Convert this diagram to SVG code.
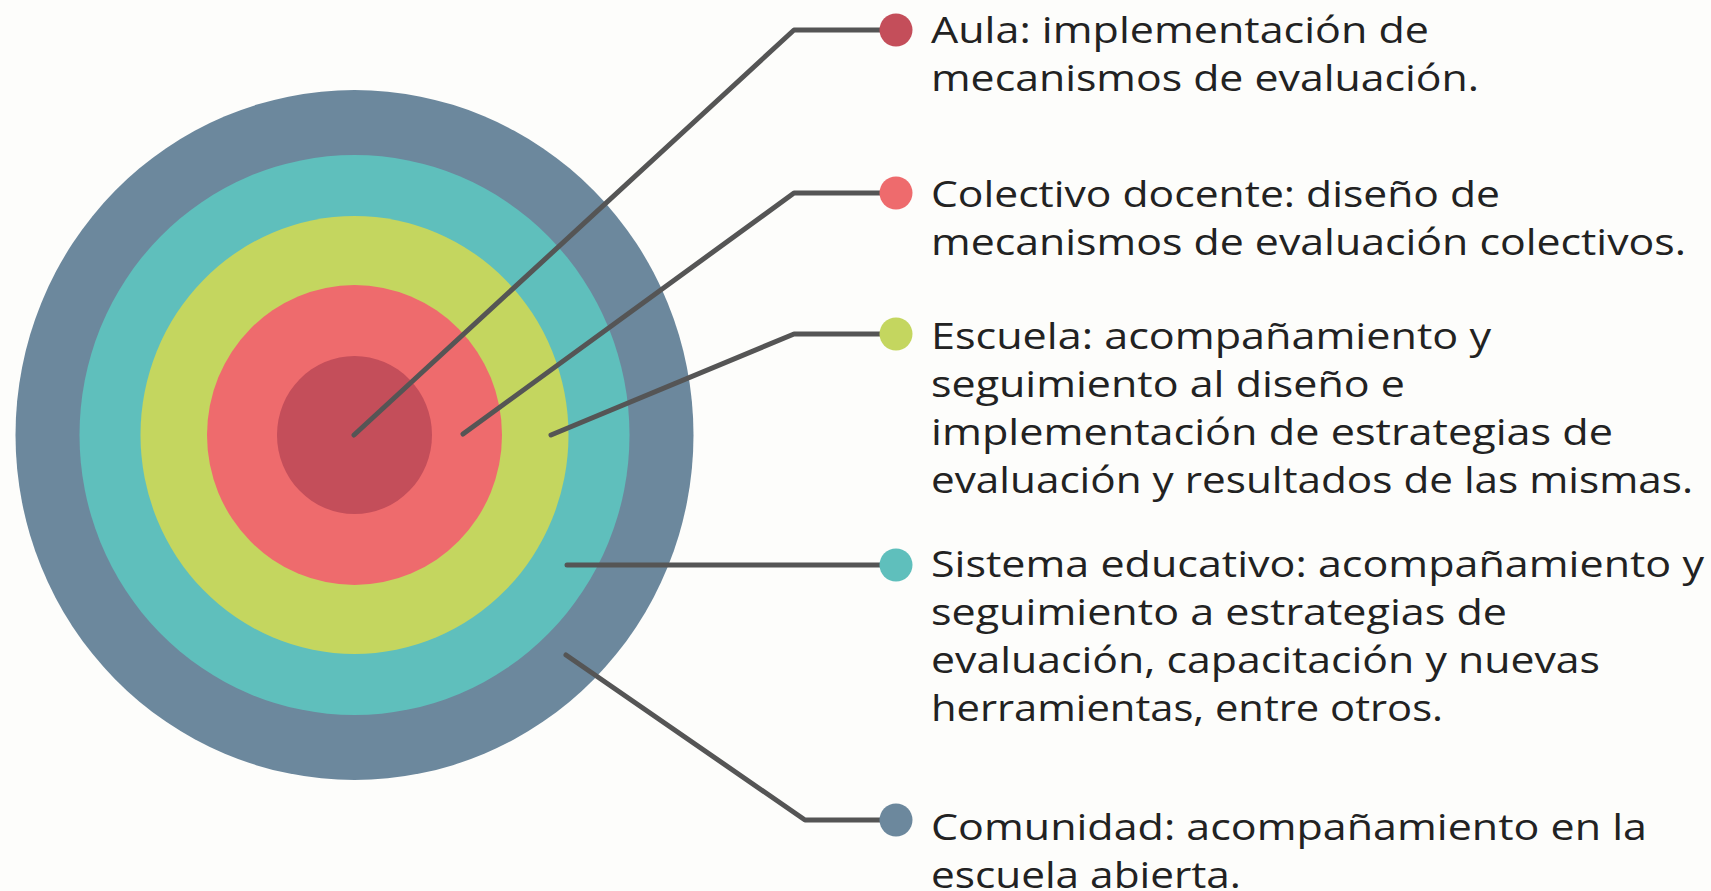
<svg xmlns="http://www.w3.org/2000/svg" width="1711" height="891" viewBox="0 0 1711 891">
  <style>
    .lbl { font-family: "Open Sans", "Liberation Sans", sans-serif; font-size: 36px; fill: #222222; }
    .conn { fill: none; stroke: #555555; stroke-width: 5; stroke-linecap: round; stroke-linejoin: round; }
  </style>
  <rect x="0" y="0" width="1711" height="891" fill="#FDFDFB"/>
  <g id="rings">
    <ellipse id="ring-comunidad" cx="354.5" cy="435" rx="339" ry="345" fill="#6C889D"/>
    <ellipse id="ring-sistema" cx="354.5" cy="435" rx="275" ry="280" fill="#5FBFBC"/>
    <ellipse id="ring-escuela" cx="354.5" cy="435" rx="214" ry="219" fill="#C4D65F"/>
    <ellipse id="ring-colectivo" cx="354.5" cy="435" rx="147.5" ry="150" fill="#EE6B6D"/>
    <ellipse id="ring-aula" cx="354.5" cy="435" rx="77.5" ry="79" fill="#C44E5A"/>
  </g>
  <g id="connectors">
    <polyline class="conn" points="354,435 794,30 896,30"/>
    <polyline class="conn" points="463,434 794,193 896,193"/>
    <polyline class="conn" points="551,435 794,334 896,334"/>
    <polyline class="conn" points="567,565 896,565"/>
    <polyline class="conn" points="566,655 805,820 896,820"/>
  </g>
  <g id="node-aula">
    <circle cx="896" cy="30" r="16.5" fill="#C44E5A"/>
    <text class="lbl" x="931" y="43" textLength="498" lengthAdjust="spacingAndGlyphs">Aula: implementación de</text>
    <text class="lbl" x="931" y="91" textLength="548" lengthAdjust="spacingAndGlyphs">mecanismos de evaluación.</text>
  </g>
  <g id="node-colectivo">
    <circle cx="896" cy="193" r="16.5" fill="#EE6B6D"/>
    <text class="lbl" x="931" y="207" textLength="569" lengthAdjust="spacingAndGlyphs">Colectivo docente: diseño de</text>
    <text class="lbl" x="931" y="255" textLength="755" lengthAdjust="spacingAndGlyphs">mecanismos de evaluación colectivos.</text>
  </g>
  <g id="node-escuela">
    <circle cx="896" cy="334" r="16.5" fill="#C4D65F"/>
    <text class="lbl" x="931" y="349" textLength="560" lengthAdjust="spacingAndGlyphs">Escuela: acompañamiento y</text>
    <text class="lbl" x="931" y="397" textLength="474" lengthAdjust="spacingAndGlyphs">seguimiento al diseño e</text>
    <text class="lbl" x="931" y="445" textLength="682" lengthAdjust="spacingAndGlyphs">implementación de estrategias de</text>
    <text class="lbl" x="931" y="493" textLength="762" lengthAdjust="spacingAndGlyphs">evaluación y resultados de las mismas.</text>
  </g>
  <g id="node-sistema">
    <circle cx="896" cy="565" r="16.5" fill="#5FBFBC"/>
    <text class="lbl" x="931" y="577" textLength="773" lengthAdjust="spacingAndGlyphs">Sistema educativo: acompañamiento y</text>
    <text class="lbl" x="931" y="625" textLength="576" lengthAdjust="spacingAndGlyphs">seguimiento a estrategias de</text>
    <text class="lbl" x="931" y="673" textLength="669" lengthAdjust="spacingAndGlyphs">evaluación, capacitación y nuevas</text>
    <text class="lbl" x="931" y="721" textLength="512" lengthAdjust="spacingAndGlyphs">herramientas, entre otros.</text>
  </g>
  <g id="node-comunidad">
    <circle cx="896" cy="820" r="16.5" fill="#6C889D"/>
    <text class="lbl" x="931" y="840" textLength="716" lengthAdjust="spacingAndGlyphs">Comunidad: acompañamiento en la</text>
    <text class="lbl" x="931" y="888" textLength="310" lengthAdjust="spacingAndGlyphs">escuela abierta.</text>
  </g>
</svg>
